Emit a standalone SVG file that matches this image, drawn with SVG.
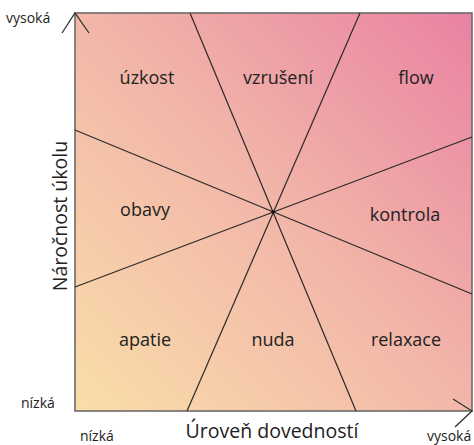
<svg xmlns="http://www.w3.org/2000/svg" width="474" height="445" viewBox="0 0 474 445">
<defs>
<linearGradient id="bg" x1="0" y1="1" x2="1" y2="0">
<stop offset="0" stop-color="#fadea9"/>
<stop offset="0.5" stop-color="#f2b7a9"/>
<stop offset="1" stop-color="#e982a2"/>
</linearGradient>
<style>
.lbl{font-family:"Open Sans","Noto Sans",sans-serif;font-size:18px;fill:#222;text-anchor:middle}
.ax{font-family:"Open Sans","Noto Sans",sans-serif;font-size:14px;fill:#222}
.title{font-family:"Open Sans","Noto Sans",sans-serif;font-size:19.5px;fill:#222;text-anchor:middle}
.div{stroke:#2a2a2a;stroke-width:1.2;fill:none}
.axis{stroke:#333;stroke-width:1.3;fill:none}
</style>
</defs>
<rect x="0" y="0" width="474" height="445" fill="#fff"/>
<g id="plane">
<rect x="75" y="13" width="397" height="398" fill="url(#bg)" stroke="#6b6b6b" stroke-width="1.6"/>
</g>
<g id="connectors">
<line class="div" x1="75" y1="130" x2="472" y2="294"/>
<line class="div" x1="75" y1="287" x2="472" y2="137"/>
<line class="div" x1="190" y1="13" x2="356" y2="411"/>
<line class="div" x1="360" y1="13" x2="187" y2="411"/>
<circle cx="273" cy="212" r="1.8" fill="#111"/>
<polyline class="axis" points="62,33 75,13 89,33"/>
<polyline class="axis" points="453,399 472,411 455,427"/>
</g>
<g id="uzkost"><text class="lbl" x="147" y="84">úzkost</text></g>
<g id="vzruseni"><text class="lbl" x="278" y="84">vzrušení</text></g>
<g id="flow"><text class="lbl" x="416" y="84">flow</text></g>
<g id="obavy"><text class="lbl" x="145" y="216">obavy</text></g>
<g id="kontrola"><text class="lbl" x="405" y="221">kontrola</text></g>
<g id="apatie"><text class="lbl" x="145" y="346">apatie</text></g>
<g id="nuda"><text class="lbl" x="273" y="346">nuda</text></g>
<g id="relaxace"><text class="lbl" x="406" y="346">relaxace</text></g>
<g id="axes-labels">
<text class="ax" x="6" y="23">vysoká</text>
<text class="ax" x="21" y="408">nízká</text>
<text class="ax" x="80" y="441">nízká</text>
<text class="ax" x="427" y="441">vysoká</text>
<text class="title" x="272" y="438">Úroveň dovedností</text>
<text class="title" x="0" y="0" transform="translate(67,216) rotate(-90)">Náročnost úkolu</text>
</g>
</svg>
